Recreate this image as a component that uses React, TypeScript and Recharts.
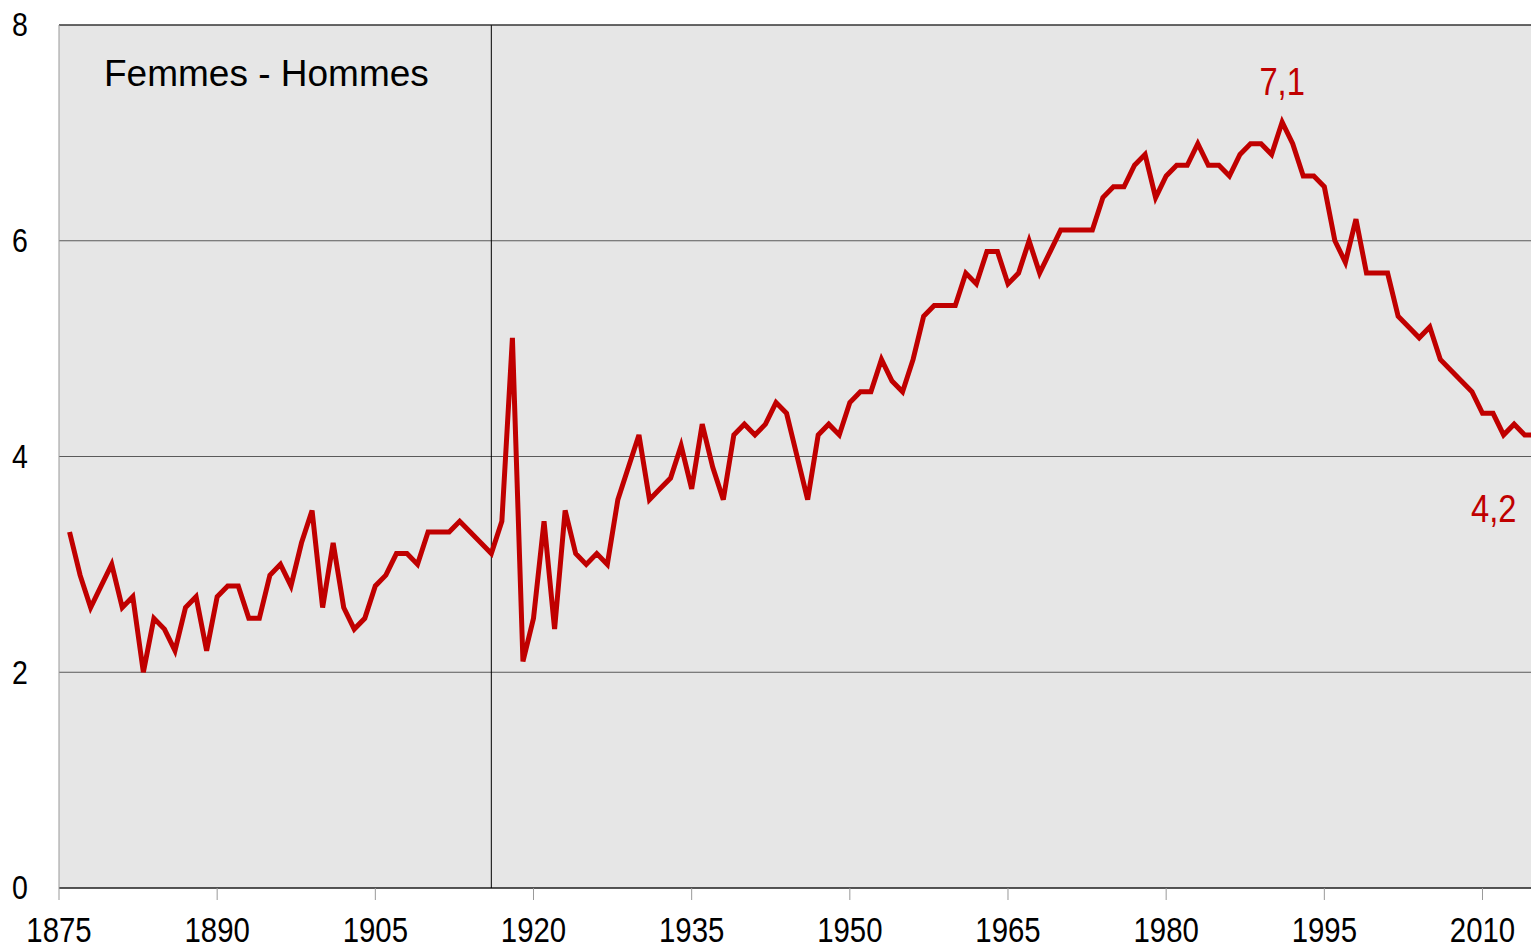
import React from 'react';
import { LineChart, Line, XAxis, YAxis, CartesianGrid, ReferenceLine, LabelList } from 'recharts';

// écart d'espérance de vie femmes - hommes, en années
const START_YEAR = 1876;
const GAP_VALUES = [
  3.3, 2.9, 2.6, 2.8, 3.0, 2.6, 2.7, 2.0, 2.5, 2.4,
  2.2, 2.6, 2.7, 2.2, 2.7, 2.8, 2.8, 2.5, 2.5, 2.9,
  3.0, 2.8, 3.2, 3.5, 2.6, 3.2, 2.6, 2.4, 2.5, 2.8,
  2.9, 3.1, 3.1, 3.0, 3.3, 3.3, 3.3, 3.4, 3.3, 3.2,
  3.1, 3.4, 5.1, 2.1, 2.5, 3.4, 2.4, 3.5, 3.1, 3.0,
  3.1, 3.0, 3.6, 3.9, 4.2, 3.6, 3.7, 3.8, 4.1, 3.7,
  4.3, 3.9, 3.6, 4.2, 4.3, 4.2, 4.3, 4.5, 4.4, 4.0,
  3.6, 4.2, 4.3, 4.2, 4.5, 4.6, 4.6, 4.9, 4.7, 4.6,
  4.9, 5.3, 5.4, 5.4, 5.4, 5.7, 5.6, 5.9, 5.9, 5.6,
  5.7, 6.0, 5.7, 5.9, 6.1, 6.1, 6.1, 6.1, 6.4, 6.5,
  6.5, 6.7, 6.8, 6.4, 6.6, 6.7, 6.7, 6.9, 6.7, 6.7,
  6.6, 6.8, 6.9, 6.9, 6.8, 7.1, 6.9, 6.6, 6.6, 6.5,
  6.0, 5.8, 6.2, 5.7, 5.7, 5.7, 5.3, 5.2, 5.1, 5.2,
  4.9, 4.8, 4.7, 4.6, 4.4, 4.4, 4.2, 4.3, 4.2, 4.2,
];

const X_TICKS = [1875, 1890, 1905, 1920, 1935, 1950, 1965, 1980, 1995, 2010];
const Y_TICKS = [0, 2, 4, 6, 8];
const MARKER_YEAR = 1916;
const LABELLED = [
  { year: 1991, text: '7,1', dx: 0, dy: -27 },
  { year: 2014, text: '4,2', dx: -31, dy: 87 },
];

const data = GAP_VALUES.map((v, i) => ({ year: START_YEAR + i, gap: v }));

const RED = '#c00000';
const SANS = '"Liberation Sans", Arial, sans-serif';

// police étroite simulée : Liberation Sans comprimée horizontalement
const NarrowText = ({ x, y, size, fill, children, baseline }: any) => (
  <text
    transform={`translate(${x},${y}) scale(0.84,1)`}
    textAnchor="middle"
    dominantBaseline={baseline || 'central'}
    fontFamily={SANS}
    fontSize={size}
    fill={fill}
  >
    {children}
  </text>
);

const XTick = (props: any) => {
  const { x, y, payload } = props;
  return <NarrowText x={x} y={y + 28} size={35} fill="#000">{payload.value}</NarrowText>;
};

const YTick = (props: any) => {
  const { y, payload } = props;
  return <NarrowText x={20} y={y} size={34} fill="#000">{payload.value}</NarrowText>;
};

const PointLabel = (props: any) => {
  const { x, y, index } = props;
  const hit = LABELLED.find((l) => l.year === data[index]?.year);
  if (!hit) return null;
  return (
    <NarrowText x={x + hit.dx} y={y + hit.dy} size={39} fill={RED} baseline="alphabetic">
      {hit.text}
    </NarrowText>
  );
};

const App: React.FC = () => {
  return (
    <div style={{ position: 'absolute', left: 0, top: 0, width: 1531, height: 949, background: '#fff' }}>
      <LineChart width={1531} height={949} data={data} margin={{ top: 25, right: 0, left: 0, bottom: 0 }}>
        <CartesianGrid vertical={false} stroke="#5a5a5a" fill="#e6e6e6" />
        <XAxis
          type="number"
          dataKey="year"
          domain={[1875, 2014.6]}
          allowDataOverflow
          ticks={X_TICKS}
          interval={0}
          height={61}
          tickSize={12}
          tickLine={{ stroke: '#999' }}
          axisLine={{ stroke: '#000' }}
          tick={<XTick />}
        />
        <YAxis
          type="number"
          domain={[0, 8]}
          ticks={Y_TICKS}
          width={59}
          tickLine={false}
          axisLine={{ stroke: '#999' }}
          tick={<YTick />}
        />
        <ReferenceLine x={MARKER_YEAR} stroke="#000" strokeWidth={1} />
        <ReferenceLine y={8} stroke="#222" strokeWidth={1} />
        <Line
          type="linear"
          dataKey="gap"
          stroke={RED}
          strokeWidth={5}
          dot={false}
          isAnimationActive={false}
        >
          <LabelList dataKey="gap" content={<PointLabel />} />
        </Line>
      </LineChart>
      <div
        style={{
          position: 'absolute',
          left: 104,
          top: 55,
          fontFamily: SANS,
          fontSize: 37,
          lineHeight: 1,
          color: '#000',
          whiteSpace: 'nowrap',
        }}
      >
        Femmes - Hommes
      </div>
    </div>
  );
};

export default App;
